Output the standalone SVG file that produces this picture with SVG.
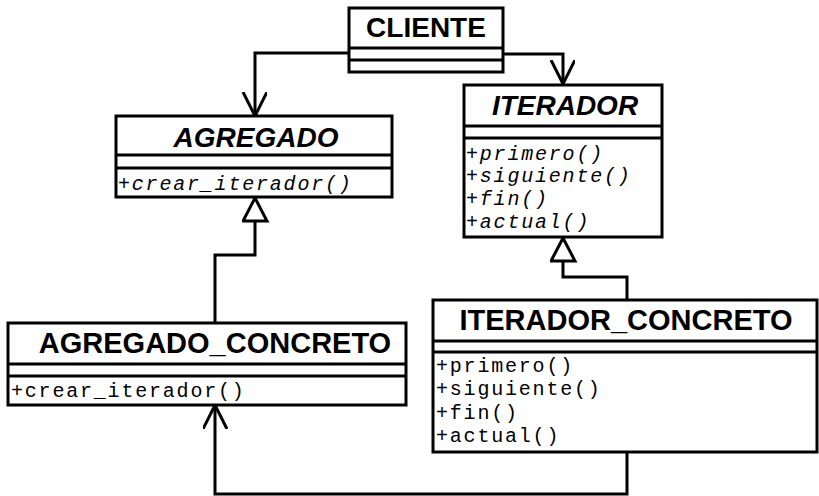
<svg xmlns="http://www.w3.org/2000/svg" width="819" height="496" viewBox="0 0 819 496">
  <style>
    .box { fill: #fff; stroke: #000; stroke-width: 3; }
    .sep { stroke: #000; stroke-width: 3; }
    .edge { fill: none; stroke: #000; stroke-width: 3; }
    .name { font-family: "Liberation Sans", Arial, sans-serif; font-weight: bold; text-anchor: middle; fill: #000; }
    .abstract { font-style: italic; }
    .op { font-family: "Liberation Mono", "Courier New", monospace; font-size: 20px; letter-spacing: 1.8px; fill: #000; }
    .op-abstract { font-style: italic; }
  </style>
  <defs>
    <marker id="open" markerUnits="userSpaceOnUse" markerWidth="30" markerHeight="30" refX="24" refY="12" orient="auto">
      <path d="M0,0 L24,12 L0,24" fill="none" stroke="#000" stroke-width="3"/>
    </marker>
    <marker id="inherit" markerUnits="userSpaceOnUse" markerWidth="30" markerHeight="30" refX="25" refY="13" orient="auto">
      <path d="M2,1 L25,13 L2,25 Z" fill="#fff" stroke="#000" stroke-width="3"/>
    </marker>
  </defs>

  <!-- connectors -->
  <g id="connectors">
    <path class="edge" d="M349,53 H255 V116" marker-end="url(#open)"/>
    <path class="edge" d="M503,54 H563 V84" marker-end="url(#open)"/>
    <path class="edge" d="M215,323 V255 H255 V198" marker-end="url(#inherit)"/>
    <path class="edge" d="M627,300 V277 H563 V238" marker-end="url(#inherit)"/>
    <path class="edge" d="M627,452 V494 H215 V405" marker-end="url(#open)"/>
  </g>

  <!-- CLIENTE -->
  <g id="cliente">
    <rect class="box" x="349" y="8" width="154" height="64"/>
    <line class="sep" x1="349" y1="48" x2="503" y2="48"/>
    <line class="sep" x1="349" y1="60" x2="503" y2="60"/>
    <text class="name" x="426" y="37" font-size="28">CLIENTE</text>
  </g>

  <!-- AGREGADO (abstract) -->
  <g id="agregado">
    <rect class="box" x="116" y="116" width="276" height="81"/>
    <line class="sep" x1="116" y1="155" x2="392" y2="155"/>
    <line class="sep" x1="116" y1="168" x2="392" y2="168"/>
    <text class="name abstract" x="256" y="147" font-size="28">AGREGADO</text>
    <text class="op op-abstract" x="118" y="190">+crear_iterador()</text>
  </g>

  <!-- ITERADOR (abstract) -->
  <g id="iterador">
    <rect class="box" x="464" y="85" width="198" height="152"/>
    <line class="sep" x1="464" y1="126" x2="662" y2="126"/>
    <line class="sep" x1="464" y1="138" x2="662" y2="138"/>
    <text class="name abstract" x="565" y="115" font-size="28">ITERADOR</text>
    <text class="op op-abstract" x="466" y="160">+primero()</text>
    <text class="op op-abstract" x="466" y="182">+siguiente()</text>
    <text class="op op-abstract" x="466" y="205">+fin()</text>
    <text class="op op-abstract" x="466" y="228">+actual()</text>
  </g>

  <!-- AGREGADO_CONCRETO -->
  <g id="agregado_concreto">
    <rect class="box" x="8" y="323" width="398" height="82"/>
    <line class="sep" x1="8" y1="364" x2="406" y2="364"/>
    <line class="sep" x1="8" y1="376" x2="406" y2="376"/>
    <text class="name" x="215" y="353" font-size="29">AGREGADO_CONCRETO</text>
    <text class="op" x="11" y="397">+crear_iterador()</text>
  </g>

  <!-- ITERADOR_CONCRETO -->
  <g id="iterador_concreto">
    <rect class="box" x="433" y="300" width="384" height="152"/>
    <line class="sep" x1="433" y1="341" x2="817" y2="341"/>
    <line class="sep" x1="433" y1="352" x2="817" y2="352"/>
    <text class="name" x="626" y="330" font-size="29">ITERADOR_CONCRETO</text>
    <text class="op" x="436" y="372">+primero()</text>
    <text class="op" x="436" y="395">+siguiente()</text>
    <text class="op" x="436" y="419">+fin()</text>
    <text class="op" x="436" y="442">+actual()</text>
  </g>
</svg>
